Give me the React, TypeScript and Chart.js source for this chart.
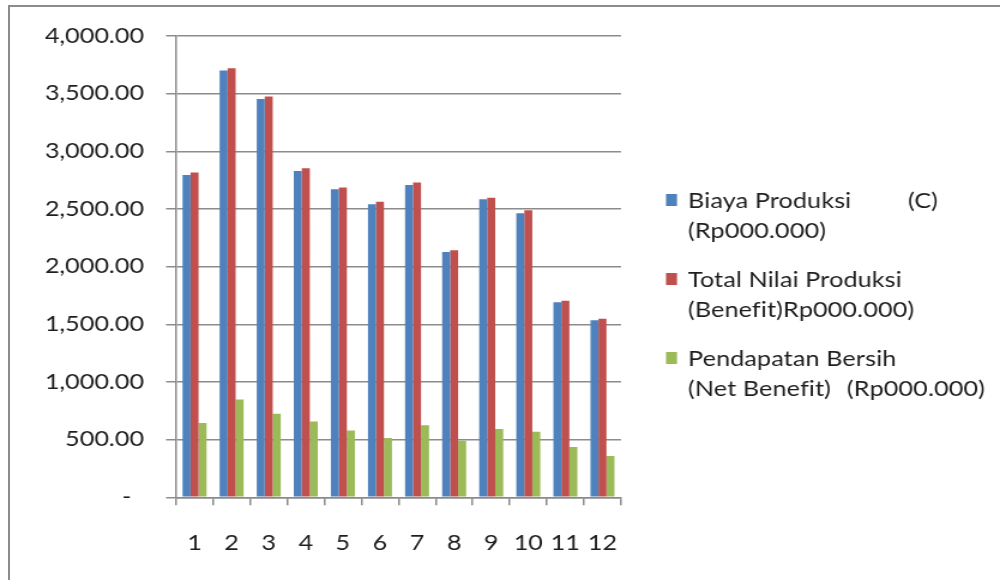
import React, { useEffect, useRef } from "react";
import { Chart, registerables } from "chart.js";

Chart.register(...registerables);

const categories = ["1", "2", "3", "4", "5", "6", "7", "8", "9", "10", "11", "12"];
const biayaProduksi = [2795, 3700, 3454, 2830, 2672, 2542, 2709, 2128, 2585, 2464, 1692, 1536];
const totalNilaiProduksi = [2816, 3720, 3475, 2853, 2686, 2562, 2730, 2143, 2597, 2490, 1704, 1548];
const pendapatanBersih = [644, 849, 724, 658, 580, 514, 624, 491, 592, 569, 436, 358];

const seriesNames = [
  "Biaya Produksi (C) (Rp000.000)",
  "Total Nilai Produksi (Benefit)Rp000.000)",
  "Pendapatan Bersih (Net Benefit) (Rp000.000)",
];
const seriesColors = ["#4F81BD", "#C0504D", "#9BBB59"];

// legend lines: [left text, right-aligned text]
const legendLines: [string, string][][] = [
  [["Biaya Produksi", "(C)"], ["(Rp000.000)", ""]],
  [["Total Nilai Produksi", ""], ["(Benefit)Rp000.000)", ""]],
  [["Pendapatan Bersih", ""], ["(Net Benefit)", "(Rp000.000)"]],
];

const yMin = 0;
const yMax = 4000;
const yStep = 500;

const W = 834;
const H = 580;
const S = 1000 / W;
const FONT = "Lato, 'Open Sans', sans-serif";
const TEXT = "#1e1e1e";

const legendPlugin = {
  id: "customLegend",
  afterDraw(chart: any) {
    const ctx = chart.ctx;
    ctx.save();
    ctx.font = `21px ${FONT}`;
    try {
      (ctx as any).letterSpacing = "0.1px";
    } catch (e) {}
    ctx.fillStyle = TEXT;
    ctx.textBaseline = "alphabetic";
    const markerX = 666 / S;
    const textX = 688 / S;
    const baseFirst = [208, 287, 366];
    const lineGap = 30;
    const rightEdges = [938 / S, 0, 985 / S];
    legendLines.forEach((entry, i) => {
      const b = baseFirst[i];
      ctx.fillStyle = seriesColors[i];
      ctx.fillRect(markerX, b - 14, 11 / S, 12);
      ctx.fillStyle = TEXT;
      entry.forEach((line, j) => {
        const y = b + j * lineGap;
        ctx.textAlign = "left";
        ctx.fillText(line[0], textX, y);
        if (line[1]) {
          ctx.textAlign = "right";
          ctx.fillText(line[1], rightEdges[i], y);
        }
      });
    });
    ctx.restore();
  },
};

export default function App() {
  const ref = useRef<HTMLCanvasElement | null>(null);

  useEffect(() => {
    if (!ref.current) return;
    const fmt = (v: number) =>
      v === 0
        ? "-  "
        : v.toLocaleString("en-US", { minimumFractionDigits: 2, maximumFractionDigits: 2 });
    const chart = new Chart(ref.current, {
      type: "bar",
      data: {
        labels: categories,
        datasets: [biayaProduksi, totalNilaiProduksi, pendapatanBersih].map((d, i) => ({
          label: seriesNames[i],
          data: d,
          backgroundColor: seriesColors[i],
          borderWidth: 0,
          categoryPercentage: 0.647,
          barPercentage: 1,
        })),
      },
      options: {
        responsive: false,
        animation: false,
        events: [],
        layout: { padding: { left: 0, right: W - 621 / S, top: 36, bottom: 0 } },
        plugins: { legend: { display: false }, tooltip: { enabled: false }, title: { display: false } },
        scales: {
          x: {
            grid: {
              display: true,
              drawOnChartArea: false,
              drawTicks: true,
              tickLength: 8,
              color: "#8a8a8a",
              lineWidth: 1.5,
              offset: true,
            },
            border: { display: true, color: "#8a8a8a", width: 1.5 },
            ticks: {
              font: { family: FONT, size: 21 },
              color: TEXT,
              padding: 25,
              maxRotation: 0,
              autoSkip: false,
            },
            afterFit: (s: any) => {
              s.height = 82.7;
            },
          },
          y: {
            min: yMin,
            max: yMax,
            ticks: {
              stepSize: yStep,
              callback: (v: any) => fmt(Number(v)),
              font: { family: FONT, size: 21 },
              color: TEXT,
              padding: 18.3,
            },
            grid: { color: "#8c8c8c", lineWidth: 1.5, tickLength: 8.3, drawTicks: true },
            border: { display: true, color: "#8a8a8a", width: 1.5 },
            afterFit: (s: any) => {
              s.width = 176 / S;
            },
          },
        },
      },
      plugins: [legendPlugin],
    });
    return () => chart.destroy();
  }, []);

  return (
    <div
      style={{
        position: "fixed",
        left: 0,
        top: 0,
        width: 1000,
        height: 580,
        overflow: "hidden",
        background: "#fff",
      }}
    >
      <canvas
        ref={ref}
        width={W}
        height={H}
        style={{
          position: "absolute",
          left: 0,
          top: 0,
          width: W,
          height: H,
          transform: `scaleX(${S})`,
          transformOrigin: "0 0",
          display: "block",
        }}
      />
      <div
        style={{
          position: "absolute",
          left: 8,
          top: 5,
          width: 1000,
          height: 600,
          borderLeft: "2px solid #8c8c8c",
          borderTop: "2px solid #8c8c8c",
          boxSizing: "border-box",
          pointerEvents: "none",
        }}
      />
    </div>
  );
}
